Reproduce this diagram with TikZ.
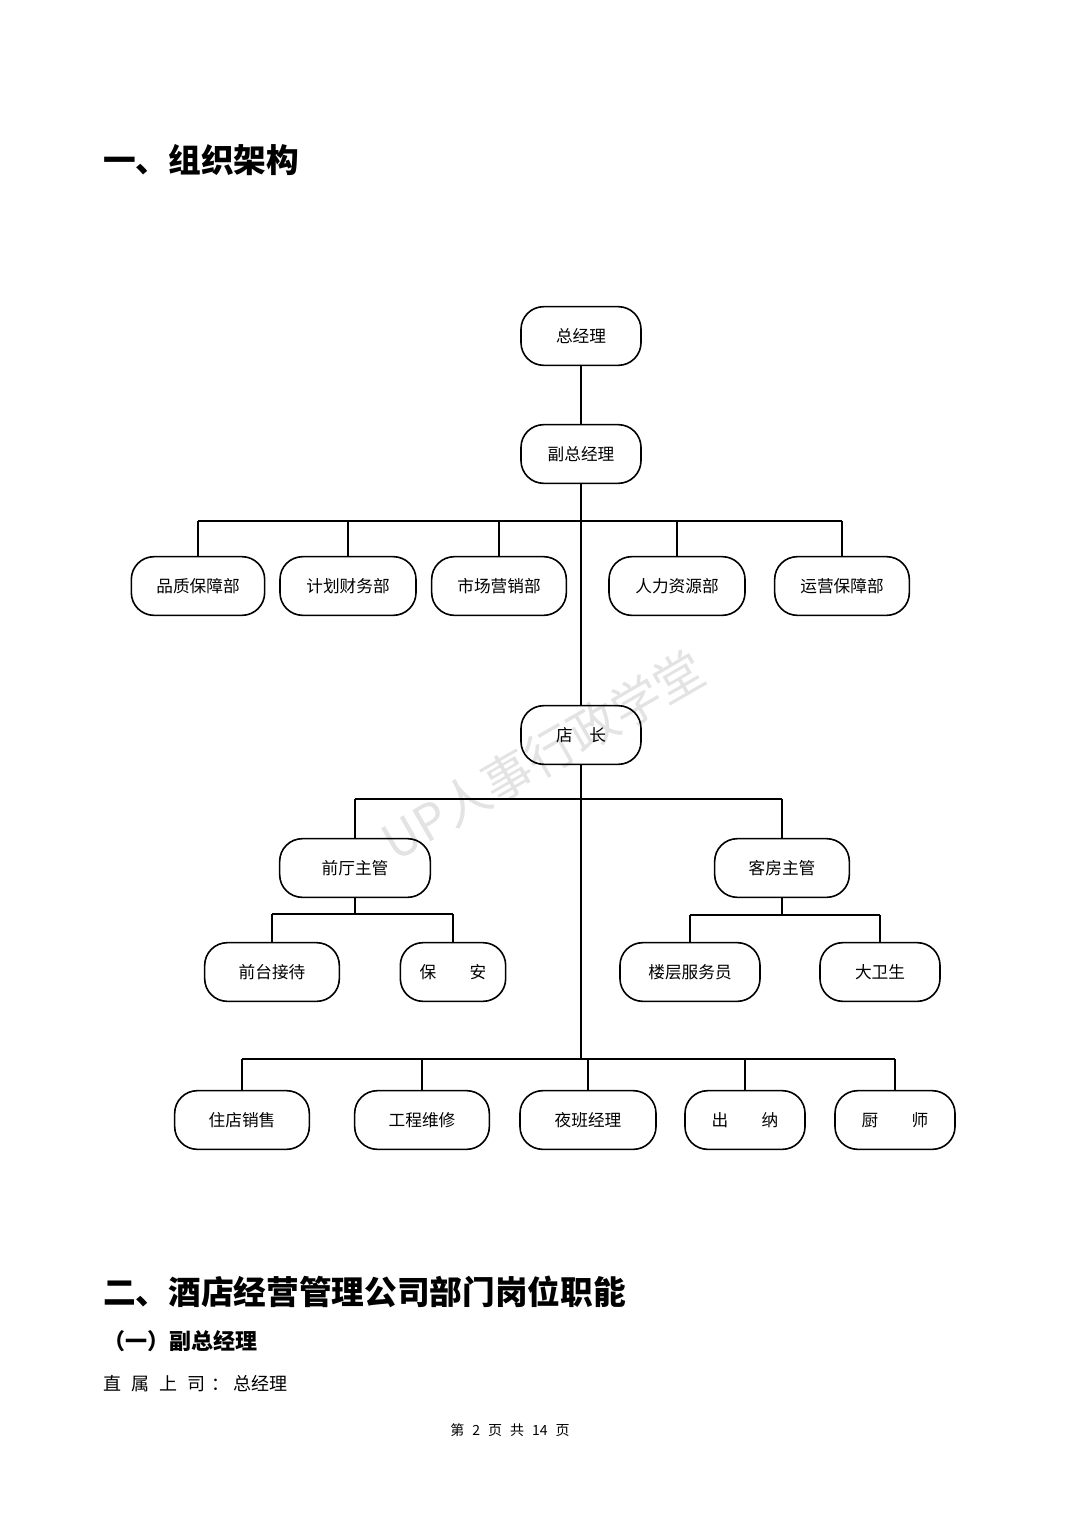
\documentclass[tikz,border=0pt]{standalone}
\usepackage{fontspec}
\setmainfont{Noto Sans CJK SC}
\usetikzlibrary{positioning}

\begin{document}
\begin{tikzpicture}[
  x=0.75pt, y=-0.75pt,
  font=\fontsize{12.5}{14}\selectfont,
  post/.style={draw, line width=1.2pt, rounded corners=17pt,
               minimum height=44pt, inner sep=0pt, align=center},
  link/.style={line width=1.2pt},
  heading/.style={anchor=west, inner sep=0pt, font=\fontsize{24.5}{28}\selectfont\bfseries}
]
\useasboundingbox (0,0) rectangle (1080,1528);

% watermark
\node[text=black!11, rotate=30, font=\fontsize{37}{40}\selectfont] (mark) at (543,755) {UP人事行政学堂};

% headings
\node[heading] (title1) at (103,160) {一、组织架构};
\node[heading] (title2) at (103,1292) {二、酒店经营管理公司部门岗位职能};
\node[anchor=west, inner sep=0pt, font=\fontsize{16.5}{19}\selectfont\bfseries] (sub1) at (103,1341) {（一）副总经理};
\node[anchor=west, inner sep=0pt, font=\fontsize{13.5}{16}\selectfont] (boss) at (103,1384)
  {直\hspace{7.5pt}属\hspace{7.5pt}上\hspace{7.5pt}司\hspace{5pt}：\hspace{3pt}总经理};
\node[inner sep=0pt, font=\fontsize{10.5}{12}\selectfont] (page) at (510,1430)
  {第\hspace{6pt}2\hspace{6pt}页\hspace{6pt}共\hspace{6pt}14\hspace{6pt}页};

% nodes
\node[post, minimum width=90pt] (gm) at (581,336) {总经理};
\node[post, minimum width=90pt] (vgm) at (581,454) {副总经理};

\node[post, minimum width=100pt] (qa) at (198,586) {品质保障部};
\node[post, minimum width=102pt] (fin) at (348,586) {计划财务部};
\node[post, minimum width=101pt] (mkt) at (499,586) {市场营销部};
\node[post, minimum width=102pt] (hr) at (677,586) {人力资源部};
\node[post, minimum width=101pt] (ops) at (842,586) {运营保障部};

\node[post, minimum width=90pt] (mgr) at (581,735) {店\quad 长};

\node[post, minimum width=113pt] (front) at (355,868) {前厅主管};
\node[post, minimum width=101pt] (house) at (782,868) {客房主管};

\node[post, minimum width=101pt] (desk) at (272,972) {前台接待};
\node[post, minimum width=79pt] (guard) at (453,972) {保\qquad 安};
\node[post, minimum width=105pt] (floor) at (690,972) {楼层服务员};
\node[post, minimum width=90pt] (clean) at (880,972) {大卫生};

\node[post, minimum width=101pt] (sales) at (242,1120) {住店销售};
\node[post, minimum width=101pt] (repair) at (422,1120) {工程维修};
\node[post, minimum width=102pt] (night) at (588,1120) {夜班经理};
\node[post, minimum width=90pt] (cash) at (745,1120) {出\qquad 纳};
\node[post, minimum width=90pt] (chef) at (895,1120) {厨\qquad 师};

% bus coordinates
\coordinate (bus1) at (581,521);
\coordinate (bus2) at (581,799);
\coordinate (bus3) at (581,1059);
\coordinate (busf) at (355,914);
\coordinate (bush) at (782,915);

% spine
\draw[link] (gm) -- (vgm);
\draw[link] (vgm) -- (mgr);
\draw[link] (mgr.south) -- (bus3);

% departments
\draw[link] (qa.north |- bus1) -- (ops.north |- bus1);
\foreach \n in {qa,fin,mkt,hr,ops}
  \draw[link] (\n.north) -- (\n.north |- bus1);

% supervisors
\draw[link] (front.north |- bus2) -- (house.north |- bus2);
\foreach \n in {front,house}
  \draw[link] (\n.north) -- (\n.north |- bus2);

\draw[link] (front.south) -- (busf);
\draw[link] (desk.north |- busf) -- (guard.north |- busf);
\foreach \n in {desk,guard}
  \draw[link] (\n.north) -- (\n.north |- busf);

\draw[link] (house.south) -- (bush);
\draw[link] (floor.north |- bush) -- (clean.north |- bush);
\foreach \n in {floor,clean}
  \draw[link] (\n.north) -- (\n.north |- bush);

% store staff
\draw[link] (sales.north |- bus3) -- (chef.north |- bus3);
\foreach \n in {sales,repair,night,cash,chef}
  \draw[link] (\n.north) -- (\n.north |- bus3);
\end{tikzpicture}
\end{document}
